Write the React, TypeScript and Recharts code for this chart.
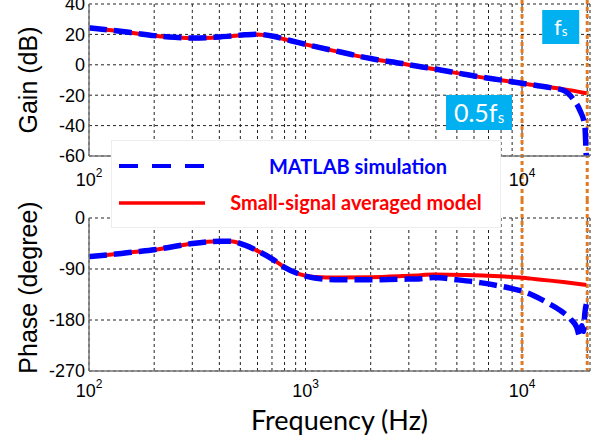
import React from 'react';
import { LineChart, Line, XAxis, YAxis, CartesianGrid, ReferenceLine } from 'recharts';

// x axis (log)
const freqDomain = [100, 20600];
const freqTicks = [100, 200, 300, 400, 500, 600, 700, 800, 900, 1000, 2000, 3000, 4000, 5000, 6000, 7000, 8000, 9000, 10000, 20000];
const decadeTicks = [100, 1000, 10000];
const decadeExps = ['2', '3', '4'];

const gainTicks = [-60, -40, -20, 0, 20, 40];
const phaseTicks = [-270, -180, -90, 0];

// switching frequency markers
const markFreqs = [10000, 20000];
const markMain = ['0.5f', 'f'];

// small-signal averaged model (red)
const modelFreq = [100, 130, 160, 200, 250, 300, 400, 450, 525, 600, 700, 800, 920, 1100, 1450, 2000, 2800, 3400, 3900, 5500, 6900, 7900, 9800, 11000, 13500, 15500, 19800];
const modelGain = [24.2, 22.5, 20.9, 19.1, 18.0, 17.5, 18.2, 18.8, 19.6, 20.0, 18.8, 16.8, 14.6, 12.0, 8.3, 4.0, 0.7, -1.4, -2.7, -6.5, -8.8, -10.0, -12.0, -13.1, -14.8, -16.0, -18.7];
const modelPhase = [-68, -64, -60, -56, -50, -45, -41, -41, -48, -58, -72, -87, -98, -104, -105, -104.5, -102.5, -101, -99.5, -100.5, -102, -103, -105, -107, -110.5, -113, -118];

// MATLAB simulation (blue dashed)
const simGainFreq = [100, 130, 160, 200, 250, 300, 400, 450, 525, 600, 700, 800, 920, 1100, 1450, 2000, 2800, 3400, 3900, 5500, 6900, 7900, 9800, 11000, 13500, 15500, 17200, 18500, 19500, 19800, 20300];
const simGain = [24.3, 22.6, 21.0, 19.2, 18.1, 17.6, 18.3, 18.9, 19.7, 20.1, 18.9, 16.9, 14.7, 12.1, 8.4, 4.1, 0.8, -1.3, -2.6, -6.4, -8.7, -9.9, -12.0, -13.1, -15.0, -16.8, -22.5, -30.0, -40.0, -60.0, -80.0];
const simPhaseFreq = [100, 130, 160, 200, 250, 300, 400, 450, 525, 600, 700, 800, 920, 1100, 1450, 2000, 2800, 3400, 3900, 5000, 6400, 7900, 9100, 10900, 13000, 15000, 16700, 17900, 18500, 18900, 19200, 19500, 19800];
const simPhase = [-68, -64, -60, -56, -50, -45, -41, -41, -48, -58, -72, -87, -98, -106, -109, -109, -108, -107, -105, -109, -114, -120, -125, -134, -149, -163, -178, -193, -210, -190, -200, -168, -152];

const legendNames = ['MATLAB simulation', 'Small-signal averaged model'];

const zip = (xs: number[], ys: number[]) => xs.map((f, i) => ({ f, v: ys[i] }));
const modelGainRows = zip(modelFreq, modelGain);
const modelPhaseRows = zip(modelFreq, modelPhase);
const simGainRows = zip(simGainFreq, simGain);
const simPhaseRows = zip(simPhaseFreq, simPhase);

const RED = '#ff0000';
const BLUE = '#0000ff';
const ORANGE = '#e07b24';
const CYAN = '#00b0f0';
const AXIS = { stroke: '#777', strokeWidth: 1.5 };
const NUM_FONT = '"Liberation Sans", Arial, sans-serif';
const TXT_FONT = 'Lato, "Open Sans", sans-serif';

const W = 611;
const Y_W = 89;
const RIGHT = 21;
const TOP_H = 200, TOP_M = 4, TOP_XH = 44;
const BOT_H = 242, BOT_M = 18, BOT_XH = 71;

function FreqTick(props: any) {
  const { x, y, payload, base } = props;
  const i = decadeTicks.indexOf(payload.value);
  if (i < 0) return <g />;
  return (
    <text x={x} y={y + base} textAnchor="middle" fontSize={18} fontFamily={NUM_FONT} fill="#000">
      10<tspan dy={-9} fontSize={12}>{decadeExps[i]}</tspan>
    </text>
  );
}

function YTitle(props: any) {
  const { viewBox, text, shift } = props;
  const cx = viewBox.x + 28;
  const cy = viewBox.y + viewBox.height / 2 + (shift || 0);
  return (
    <text x={cx} y={cy} transform={`rotate(-90 ${cx} ${cy})`} textAnchor="middle" dominantBaseline="central"
      fontSize={25} fontFamily={NUM_FONT} fill="#000">{text}</text>
  );
}

function MarkLine(ext: [number, number]) {
  return (p: any) => {
    const top = Math.min(p.y1, p.y2) - ext[0];
    const bot = Math.max(p.y1, p.y2) + ext[1];
    return <line x1={p.x1} x2={p.x2} y1={top} y2={bot} stroke={ORANGE} strokeWidth={3} strokeDasharray="4 3" />;
  };
}

function MarkBox(props: any) {
  const { viewBox, idx } = props;
  const big = idx === 0;
  const w = big ? 66 : 37;
  const h = big ? 35 : 34;
  const gap = big ? 10 : 8;
  const top = viewBox.y + (big ? 91 : 6);
  const left = viewBox.x - gap - w;
  const fs = big ? 25 : 22;
  return (
    <g>
      <rect x={left} y={top} width={w} height={h} fill={CYAN} />
      <text x={left + w / 2} y={top + h / 2 + fs * 0.36} textAnchor="middle" fontSize={fs} fontFamily={TXT_FONT} fill="#fff">
        {markMain[idx]}<tspan fontSize={fs * 0.6} dy={1}>s</tspan>
      </text>
    </g>
  );
}

function Panel(props: any) {
  const { height, marginTop, xHeight, tickBase, yDomain, yTicks, title, titleShift, model, sim, xTitle, showMarkBoxes } = props;
  return (
    <LineChart width={W} height={height} margin={{ top: marginTop, right: RIGHT, left: 0, bottom: 0 }}>
      <CartesianGrid stroke="#222" strokeDasharray="3 3" strokeWidth={1} />
      <XAxis dataKey="f" type="number" scale="log" domain={freqDomain} ticks={freqTicks} interval={0}
        allowDataOverflow height={xHeight} tickSize={0} tickMargin={0} tickLine={false} axisLine={AXIS}
        tick={(p: any) => <FreqTick {...p} base={tickBase} />}
        label={xTitle ? (p: any) => (
          <text x={p.viewBox.x + p.viewBox.width / 2} y={p.viewBox.y + 59} textAnchor="middle"
            fontSize={27} fontFamily={TXT_FONT} fill="#000">{xTitle}</text>
        ) : undefined} />
      <XAxis xAxisId="top" orientation="top" type="number" scale="log" domain={freqDomain} height={0}
        tick={false} tickLine={false} axisLine={AXIS} />
      <YAxis type="number" domain={yDomain} ticks={yTicks} interval={0} allowDataOverflow width={Y_W}
        tickSize={0} tickMargin={4} tickLine={false} axisLine={AXIS}
        tick={{ fontSize: 18, fill: '#000', fontFamily: NUM_FONT }}
        label={(p: any) => <YTitle {...p} text={title} shift={titleShift} />} />
      <YAxis yAxisId="right" orientation="right" width={0} tick={false} tickLine={false} axisLine={AXIS} />
      {markFreqs.map((m, i) => (
        <ReferenceLine key={m} x={m} stroke={ORANGE}
          shape={MarkLine([marginTop, height === TOP_H ? xHeight : 0])}
          label={showMarkBoxes ? (p: any) => <MarkBox {...p} idx={i} /> : undefined} />
      ))}
      <Line data={model} dataKey="v" type="monotone" stroke={RED} strokeWidth={4} dot={false} isAnimationActive={false} />
      <Line data={sim} dataKey="v" type="monotone" stroke={BLUE} strokeWidth={5.5} strokeDasharray="18 7" dot={false} isAnimationActive={false} />
    </LineChart>
  );
}

export default function App() {
  return (
    <div style={{ position: 'absolute', left: 0, top: 0, width: W, height: 442, background: '#fff' }}>
      <div style={{ position: 'absolute', left: 0, top: 0 }}>
        <Panel height={TOP_H} marginTop={TOP_M} xHeight={TOP_XH} tickBase={30} yDomain={[-60, 40]} yTicks={gainTicks}
          title="Gain (dB)" titleShift={0} model={modelGainRows} sim={simGainRows} showMarkBoxes />
      </div>
      <div style={{ position: 'absolute', left: 0, top: TOP_H }}>
        <Panel height={BOT_H} marginTop={BOT_M} xHeight={BOT_XH} tickBase={26} yDomain={[-270, 0]} yTicks={phaseTicks}
          title="Phase (degree)" titleShift={-7} model={modelPhaseRows} sim={simPhaseRows} xTitle="Frequency (Hz)" />
      </div>
      <div style={{ position: 'absolute', left: 111, top: 140, width: 390, height: 88, background: '#fff', border: '1px solid #eee', boxSizing: 'border-box' }}>
        <svg width={390} height={88}>
          <line x1={7} x2={93} y1={25} y2={25} stroke={BLUE} strokeWidth={4} strokeDasharray="19 14" />
          <line x1={7} x2={93} y1={62} y2={62} stroke={RED} strokeWidth={3.5} />
          <text x={246} y={25} dominantBaseline="central" textAnchor="middle" fontSize={20} fontWeight={700} fontFamily={TXT_FONT} fill={BLUE}>{legendNames[0]}</text>
          <text x={244} y={61} dominantBaseline="central" textAnchor="middle" fontSize={20} fontWeight={700} fontFamily={TXT_FONT} fill={RED}>{legendNames[1]}</text>
        </svg>
      </div>
    </div>
  );
}
